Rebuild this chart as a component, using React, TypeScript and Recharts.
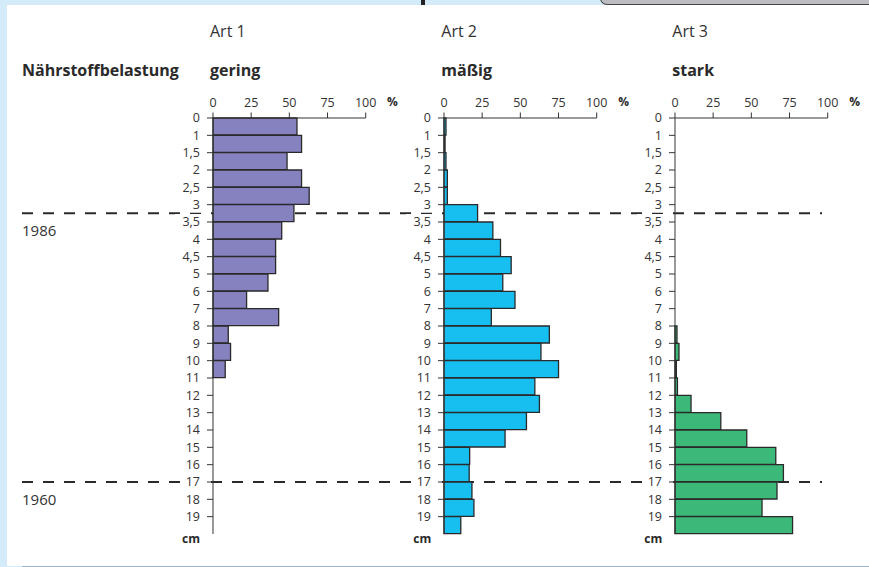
import React from "react";
import { Bar, BarChart, ReferenceLine, XAxis, YAxis } from "recharts";

// depth classes (cm), top of each layer
const depthLabels = ["0", "1", "1,5", "2", "2,5", "3", "3,5", "4", "4,5", "5", "6", "7", "8", "9", "10", "11", "12", "13", "14", "15", "16", "17", "18", "19"];

// share of each species per layer (%)
const art1 = [55, 58, 48.5, 58, 63, 53, 45, 41, 41, 36, 22, 43, 10, 11.5, 8, 0, 0, 0, 0, 0, 0, 0, 0, 0];
const art2 = [1.3, 0.7, 1.3, 2.2, 2.2, 22, 32, 37, 44, 38.5, 46.5, 31, 69, 63.5, 75, 59.5, 62.5, 54, 40, 16.8, 16.5, 18.3, 19.6, 11];
const art3 = [0, 0, 0, 0, 0, 0, 0, 0, 0, 0, 0, 0, 1.3, 2.6, 0.9, 1.6, 10.5, 30, 47, 66, 71, 66.8, 57, 77];

const percentTicks = [0, 25, 50, 75, 100];

// dated horizons, in layer rows
const yearMarks = [
  { year: "1986", row: 5.5 },
  { year: "1960", row: 21 },
];

const panels = [
  { key: "art1", title: "Art 1", load: "gering", color: "#8682c0", axisX: 213 },
  { key: "art2", title: "Art 2", load: "mäßig", color: "#17bff0", axisX: 444.3 },
  { key: "art3", title: "Art 3", load: "stark", color: "#3cb978", axisX: 675.3 },
];

const rows = depthLabels.map((label, i) => ({
  label,
  mid: i + 0.5,
  art1: art1[i],
  art2: art2[i],
  art3: art3[i],
}));

const W = 869;
const H = 567;
const PLOT_TOP = 118;
const PLOT_BOTTOM = 534;
const AXIS_LEN = 152.7;
const PAD_LEFT = 60;
const PAD_RIGHT = 40;
const FONT = "'Open Sans', sans-serif";
const INK = "#333";

function DepthTick(props: any) {
  const { x, y, payload } = props;
  const text = depthLabels[payload.value] ?? "";
  const w = text.length * 7 + 4;
  return (
    <g>
      <rect x={x - w} y={y - 8} width={w + 3} height={16} fill="#fff" />
      <text x={x} y={y} dy="0.36em" textAnchor="end" fontSize={12.5} fontFamily={FONT} fill={INK}>
        {text}
      </text>
    </g>
  );
}

function YearLabel(props: any) {
  const { viewBox, text } = props;
  if (!viewBox) return null;
  return (
    <text x={viewBox.x} y={viewBox.y + 23} fontSize={15} fontFamily={FONT} fill={INK}>
      {text}
    </text>
  );
}

function Panel({ p }: { p: (typeof panels)[number] }) {
  const width = PAD_LEFT + AXIS_LEN + PAD_RIGHT;
  return (
    <div style={{ position: "absolute", left: p.axisX - PAD_LEFT, top: 0 }}>
      <BarChart
        width={width}
        height={H}
        data={rows}
        layout="vertical"
        barCategoryGap={0}
        barGap={0}
        margin={{ top: PLOT_TOP - 30, bottom: H - PLOT_BOTTOM, left: PAD_LEFT - 45, right: PAD_RIGHT }}
      >
        <XAxis
          type="number"
          orientation="top"
          domain={[0, 100]}
          ticks={percentTicks}
          height={30}
          tickSize={5.5}
          tickMargin={5}
          stroke={INK}
          tick={{ fontSize: 12.5, fontFamily: FONT, fill: INK }}
        />
        <YAxis
          type="number"
          dataKey="mid"
          domain={[0, depthLabels.length]}
          ticks={depthLabels.map((_, i) => i)}
          interval={0}
          width={45}
          tickSize={6}
          tickMargin={7}
          stroke={INK}
          tick={<DepthTick />}
        />
        <Bar dataKey={p.key} fill={p.color} stroke="#2a2a2a" strokeWidth={1.3} isAnimationActive={false} />
      </BarChart>
    </div>
  );
}

// full-width layer that only carries the dated horizons
function Horizons() {
  return (
    <div style={{ position: "absolute", left: 0, top: 0 }}>
      <BarChart
        width={W}
        height={H}
        data={rows}
        layout="vertical"
        barCategoryGap={0}
        margin={{ top: PLOT_TOP, bottom: H - PLOT_BOTTOM, left: 22, right: 47 }}
      >
        <XAxis type="number" hide domain={[0, 100]} />
        <YAxis type="number" hide dataKey="mid" domain={[0, depthLabels.length]} />
        <Bar dataKey="art1" fill="none" stroke="none" isAnimationActive={false} />
        {yearMarks.map((m) => (
          <ReferenceLine
            key={m.year}
            y={m.row}
            stroke="#2a2a2a"
            strokeWidth={2}
            strokeDasharray="11 10"
            ifOverflow="visible"
            label={<YearLabel text={m.year} />}
          />
        ))}
      </BarChart>
    </div>
  );
}

export default function App() {
  return (
    <div style={{ position: "absolute", left: 0, top: 0, width: W, height: H, background: "#d4ecf9", overflow: "hidden", fontFamily: FONT }}>
      <div style={{ position: "absolute", left: 7, top: 5, width: W - 7, height: H - 6, background: "#fff" }} />
      <div style={{ position: "absolute", left: 22, top: H - 1, width: W - 22, height: 1, background: "#9fb4c4" }} />
      <div style={{ position: "absolute", left: 421, top: 0, width: 4, height: 5, background: "#222" }} />
      <div
        style={{
          position: "absolute",
          left: 600,
          top: -2,
          width: W - 600,
          height: 6,
          background: "#bcbdc1",
          borderLeft: "1px solid #444",
          borderBottom: "1px solid #444",
          borderBottomLeftRadius: 18,
        }}
      />

      <Horizons />

      {panels.map((p) => (
        <Panel key={p.key} p={p} />
      ))}

      <svg width={W} height={H} style={{ position: "absolute", left: 0, top: 0, pointerEvents: "none" }}>
        <text x={22} y={76} fontSize={16} fontWeight={700} fontFamily={FONT} fill="#2a2a2a">
          Nährstoffbelastung
        </text>
        {panels.map((p) => (
          <g key={p.key}>
            <text x={p.axisX - 3} y={37} fontSize={16} fontFamily={FONT} fill={INK}>
              {p.title}
            </text>
            <text x={p.axisX - 3} y={76} fontSize={16} fontWeight={700} fontFamily={FONT} fill="#2a2a2a">
              {p.load}
            </text>
            <text x={p.axisX + 174} y={106} fontSize={12} fontWeight={700} fontFamily={FONT} fill="#2a2a2a">
              %
            </text>
            <text x={p.axisX - 13} y={542.5} textAnchor="end" fontSize={12} fontWeight={700} fontFamily={FONT} fill="#2a2a2a">
              cm
            </text>
          </g>
        ))}
      </svg>
    </div>
  );
}
